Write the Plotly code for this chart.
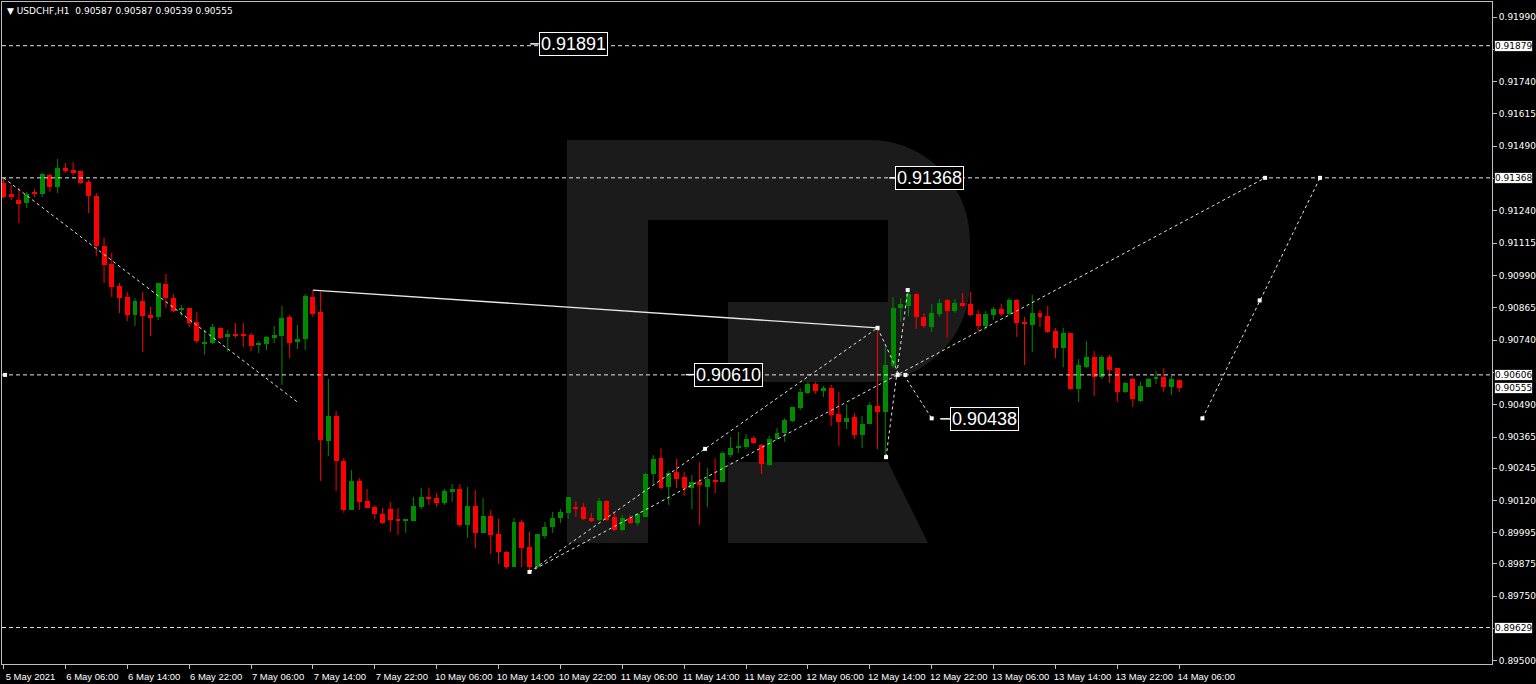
import plotly.graph_objects as go

# ---------------- data (USDCHF, H1) ----------------
opens = [0.91348, 0.91305, 0.91282, 0.91271, 0.91313, 0.91305, 0.91379, 0.91333, 0.91406, 0.91398,
         0.91394, 0.91352, 0.91298, 0.91105, 0.91035, 0.90950, 0.90907, 0.90838, 0.90892, 0.90838,
         0.90830, 0.90957, 0.90903, 0.90857, 0.90865, 0.90811, 0.90725, 0.90729, 0.90788, 0.90753,
         0.90764, 0.90764, 0.90760, 0.90725, 0.90725, 0.90749, 0.90756, 0.90830, 0.90733, 0.90745,
         0.90907, 0.90849, 0.90350, 0.90447, 0.90273, 0.90084, 0.90196, 0.90118, 0.90095, 0.90068,
         0.90087, 0.90049, 0.90041, 0.90041, 0.90095, 0.90134, 0.90130, 0.90111, 0.90153, 0.90165,
         0.90026, 0.90099, 0.89995, 0.90060, 0.89991, 0.89921, 0.89863, 0.90037, 0.89940, 0.89863,
         0.89983, 0.90018, 0.90053, 0.90072, 0.90095, 0.90095, 0.90053, 0.90045, 0.90118, 0.90057,
         0.90006, 0.90053, 0.90033, 0.90057, 0.90223, 0.90284, 0.90172, 0.90230, 0.90211, 0.90169,
         0.90192, 0.90172, 0.90199, 0.90192, 0.90296, 0.90323, 0.90327, 0.90362, 0.90335, 0.90257,
         0.90358, 0.90381, 0.90428, 0.90478, 0.90536, 0.90571, 0.90544, 0.90555, 0.90455, 0.90424,
         0.90443, 0.90373, 0.90416, 0.90486, 0.90463, 0.90640, 0.90865, 0.90873, 0.90919, 0.90830,
         0.90791, 0.90841, 0.90896, 0.90853, 0.90884, 0.90880, 0.90841, 0.90795, 0.90838, 0.90861,
         0.90841, 0.90896, 0.90811, 0.90799, 0.90845, 0.90834, 0.90776, 0.90710, 0.90768, 0.90551,
         0.90636, 0.90675, 0.90598, 0.90675, 0.90632, 0.90540, 0.90590, 0.90505, 0.90559, 0.90590,
         0.90598, 0.90559, 0.90587]
highs = [0.91367, 0.91340, 0.91329, 0.91313, 0.91325, 0.91387, 0.91383, 0.91441, 0.91425, 0.91429,
         0.91394, 0.91360, 0.91309, 0.91136, 0.91077, 0.90961, 0.90927, 0.90903, 0.90927, 0.90869,
         0.90961, 0.90996, 0.90919, 0.90876, 0.90865, 0.90849, 0.90780, 0.90803, 0.90788, 0.90780,
         0.90807, 0.90807, 0.90768, 0.90737, 0.90756, 0.90795, 0.90873, 0.90838, 0.90799, 0.90919,
         0.90934, 0.90927, 0.90590, 0.90466, 0.90284, 0.90238, 0.90207, 0.90165, 0.90103, 0.90091,
         0.90115, 0.90091, 0.90045, 0.90134, 0.90169, 0.90169, 0.90149, 0.90165, 0.90184, 0.90184,
         0.90172, 0.90161, 0.90130, 0.90084, 0.90049, 0.89925, 0.90053, 0.90045, 0.89999, 0.89991,
         0.90037, 0.90076, 0.90087, 0.90134, 0.90118, 0.90111, 0.90072, 0.90130, 0.90122, 0.90072,
         0.90064, 0.90064, 0.90072, 0.90227, 0.90296, 0.90323, 0.90234, 0.90281, 0.90230, 0.90219,
         0.90269, 0.90246, 0.90284, 0.90311, 0.90366, 0.90385, 0.90377, 0.90370, 0.90339, 0.90370,
         0.90401, 0.90439, 0.90482, 0.90555, 0.90579, 0.90579, 0.90563, 0.90567, 0.90540, 0.90493,
         0.90459, 0.90447, 0.90501, 0.90788, 0.90714, 0.90907, 0.90903, 0.90934, 0.90923, 0.90845,
         0.90880, 0.90899, 0.90899, 0.90899, 0.90923, 0.90927, 0.90857, 0.90853, 0.90869, 0.90880,
         0.90903, 0.90899, 0.90830, 0.90915, 0.90857, 0.90873, 0.90788, 0.90788, 0.90768, 0.90667,
         0.90737, 0.90698, 0.90683, 0.90683, 0.90632, 0.90579, 0.90594, 0.90579, 0.90594, 0.90621,
         0.90632, 0.90602, 0.90587]
lows = [0.91290, 0.91282, 0.91193, 0.91251, 0.91294, 0.91294, 0.91313, 0.91309, 0.91387, 0.91379,
        0.91344, 0.91232, 0.91066, 0.90961, 0.90907, 0.90845, 0.90814, 0.90795, 0.90694, 0.90756,
        0.90818, 0.90865, 0.90849, 0.90834, 0.90791, 0.90729, 0.90683, 0.90725, 0.90745, 0.90694,
        0.90749, 0.90714, 0.90698, 0.90690, 0.90702, 0.90729, 0.90567, 0.90671, 0.90706, 0.90702,
        0.90830, 0.90196, 0.90292, 0.90157, 0.90072, 0.90084, 0.90084, 0.90091, 0.90049, 0.90029,
        0.89999, 0.89987, 0.89995, 0.90041, 0.90087, 0.90103, 0.90095, 0.90103, 0.90115, 0.90018,
        0.89976, 0.89937, 0.89995, 0.89913, 0.89875, 0.89855, 0.89863, 0.89863, 0.89844, 0.89863,
        0.89972, 0.89995, 0.90033, 0.90049, 0.90057, 0.90045, 0.90037, 0.90041, 0.90041, 0.90002,
        0.90002, 0.90029, 0.90022, 0.90057, 0.90184, 0.90165, 0.90103, 0.90169, 0.90138, 0.90087,
        0.90026, 0.90095, 0.90149, 0.90192, 0.90288, 0.90304, 0.90319, 0.90339, 0.90222, 0.90254,
        0.90354, 0.90347, 0.90424, 0.90470, 0.90532, 0.90532, 0.90521, 0.90408, 0.90331, 0.90397,
        0.90358, 0.90323, 0.90416, 0.90319, 0.90284, 0.90632, 0.90811, 0.90834, 0.90784, 0.90788,
        0.90772, 0.90830, 0.90749, 0.90845, 0.90869, 0.90834, 0.90772, 0.90780, 0.90818, 0.90834,
        0.90838, 0.90753, 0.90644, 0.90694, 0.90791, 0.90768, 0.90671, 0.90636, 0.90551, 0.90501,
        0.90632, 0.90524, 0.90590, 0.90575, 0.90501, 0.90536, 0.90482, 0.90501, 0.90559, 0.90571,
        0.90540, 0.90528, 0.90539]
closes = [0.91294, 0.91294, 0.91267, 0.91305, 0.91305, 0.91383, 0.91333, 0.91406, 0.91394, 0.91387,
          0.91348, 0.91298, 0.91105, 0.91031, 0.90946, 0.90903, 0.90838, 0.90892, 0.90834, 0.90826,
          0.90961, 0.90903, 0.90853, 0.90861, 0.90807, 0.90737, 0.90733, 0.90791, 0.90749, 0.90764,
          0.90760, 0.90756, 0.90718, 0.90729, 0.90753, 0.90760, 0.90826, 0.90729, 0.90745, 0.90911,
          0.90841, 0.90354, 0.90447, 0.90273, 0.90084, 0.90196, 0.90115, 0.90091, 0.90068, 0.90033,
          0.90045, 0.90041, 0.90045, 0.90099, 0.90134, 0.90126, 0.90111, 0.90157, 0.90165, 0.90026,
          0.90099, 0.89995, 0.90060, 0.89987, 0.89921, 0.89863, 0.90037, 0.89937, 0.89863, 0.89991,
          0.90018, 0.90053, 0.90076, 0.90134, 0.90087, 0.90049, 0.90041, 0.90118, 0.90045, 0.90006,
          0.90053, 0.90033, 0.90068, 0.90223, 0.90281, 0.90169, 0.90227, 0.90203, 0.90169, 0.90192,
          0.90180, 0.90203, 0.90192, 0.90304, 0.90323, 0.90331, 0.90358, 0.90343, 0.90261, 0.90358,
          0.90381, 0.90432, 0.90482, 0.90540, 0.90571, 0.90544, 0.90555, 0.90451, 0.90424, 0.90439,
          0.90373, 0.90416, 0.90490, 0.90463, 0.90644, 0.90865, 0.90880, 0.90919, 0.90830, 0.90795,
          0.90845, 0.90884, 0.90853, 0.90884, 0.90873, 0.90838, 0.90795, 0.90841, 0.90861, 0.90841,
          0.90896, 0.90807, 0.90803, 0.90845, 0.90830, 0.90772, 0.90710, 0.90768, 0.90551, 0.90644,
          0.90675, 0.90598, 0.90675, 0.90625, 0.90540, 0.90575, 0.90513, 0.90563, 0.90590, 0.90598,
          0.90559, 0.90590, 0.90555]

x_tick_bars = [0, 8, 16, 24, 32, 40, 48, 56, 64, 72, 80, 88, 96, 104, 112, 120, 128, 136, 144, 152]
x_tick_labels = ["5 May 2021", "6 May 06:00", "6 May 14:00", "6 May 22:00", "7 May 06:00",
                 "7 May 14:00", "7 May 22:00", "10 May 06:00", "10 May 14:00", "10 May 22:00",
                 "11 May 06:00", "11 May 14:00", "11 May 22:00", "12 May 06:00", "12 May 14:00",
                 "12 May 22:00", "13 May 06:00", "13 May 14:00", "13 May 22:00", "14 May 06:00"]

price_ticks = [0.91990, 0.91865, 0.91740, 0.91615, 0.91490, 0.91365, 0.91240, 0.91115, 0.90990,
               0.90865, 0.90740, 0.90615, 0.90490, 0.90365, 0.90245, 0.90120, 0.89995, 0.89875,
               0.89750, 0.89625, 0.89500]
price_tick_labels = ["0.91990", "", "0.91740", "0.91615", "0.91490", "", "0.91240", "0.91115",
                     "0.90990", "0.90865", "0.90740", "", "0.90490", "0.90365", "0.90245",
                     "0.90120", "0.89995", "0.89875", "0.89750", "", "0.89500"]

h_levels = [0.91879, 0.91368, 0.90606, 0.89629]
axis_boxes = [0.91879, 0.91368, 0.90606, 0.90555, 0.89629]
axis_box_labels = ["0.91879", "0.91368", "0.90606", "0.90555", "0.89629"]

# text labels on chart: (anchor bar, box-left bar, price, text)
chart_labels = [(68.1, 69.2, 0.91886, "0.91891"),
                (114.5, 115.3, 0.91368, "0.91368"),
                (88.2, 89.3, 0.90607, "0.90610"),
                (121.1, 122.4, 0.90436, "0.90438")]

dashed_segments = [((0, 0.91368), (38, 0.90501)),
                   ((68, 0.89844), (113, 0.90788)),
                   ((68, 0.89844), (163.1, 0.91368)),
                   ((113, 0.90788), (115.8, 0.90606)),
                   ((114.1, 0.90288), (116.9, 0.90934)),
                   ((116.4, 0.90606), (120, 0.90438)),
                   ((155, 0.90438), (170.2, 0.91368))]
solid_segments = [((40, 0.90934), (113, 0.90788))]
arrow_points = [(90.7, 0.90320), (163.1, 0.91368), (162.4, 0.90894), (155, 0.90438),
                (170.2, 0.91368), (113, 0.90788), (114.1, 0.90288), (116.9, 0.90934),
                (115.6, 0.90606), (116.6, 0.90606), (120, 0.90438), (68, 0.89844), (0.2, 0.90606)]

title_text = "▼ USDCHF,H1\u00a0\u00a00.90587 0.90587 0.90539 0.90555"

# ---------------- styling ----------------
UP = "#008a00"
DOWN = "#ff0000"
FONT = "DejaVu Sans"
XFONT = "Liberation Sans"
W, H = 1536, 684
ML, MR, MT, MB = 2, 44, 2, 20

bars = list(range(len(opens)))
fig = go.Figure()

# watermark "R" (decoration, in paper coords)
def pp(X, Y):
    return f"{(X - ML) / (W - ML - MR):.5f},{(H - MB - Y) / (H - MT - MB):.5f}"

wm_paths = [
    f"M {pp(567,140)} L {pp(648,140)} L {pp(648,543)} L {pp(567,543)} Z",
    (f"M {pp(648,140)} L {pp(870,140)} C {pp(925,140)} {pp(970,185)} {pp(970,240)} "
     f"L {pp(970,282)} C {pp(970,337)} {pp(925,382)} {pp(870,382)} L {pp(728,382)} "
     f"L {pp(728,302)} L {pp(888,302)} L {pp(888,220)} L {pp(648,220)} Z"),
    f"M {pp(728,462)} L {pp(888,462)} L {pp(928,543)} L {pp(728,543)} Z",
]
shapes = []
for p in wm_paths:
    shapes.append(dict(type="path", path=p, xref="paper", yref="paper",
                       fillcolor="#1b1b1b", line=dict(width=0), layer="below"))

# wicks
for color, cond in ((UP, lambda o, c: c >= o), (DOWN, lambda o, c: c < o)):
    xs, ys = [], []
    for i, o, h, l, c in zip(bars, opens, highs, lows, closes):
        if cond(o, c):
            xs += [i, i, None]
            ys += [l, h, None]
    fig.add_trace(go.Scatter(x=xs, y=ys, mode="lines", line=dict(color=color, width=1),
                             hoverinfo="skip", showlegend=False))

# bodies
base = [min(o, c) for o, c in zip(opens, closes)]
height = [max(abs(c - o), 0.00003) for o, c in zip(opens, closes)]
colors = [UP if c >= o else DOWN for o, c in zip(opens, closes)]
fig.add_trace(go.Bar(x=bars, y=height, base=base, width=0.64,
                     marker=dict(color=colors, line=dict(width=0)),
                     hoverinfo="skip", showlegend=False))

# horizontal levels
for lv in h_levels:
    shapes.append(dict(type="line", xref="paper", x0=0, x1=1, yref="y", y0=lv, y1=lv,
                       line=dict(color="#e6e6e6", width=1, dash="4px,3px"), layer="above"))

# trend / projection lines
for (x0, y0), (x1, y1) in dashed_segments:
    fig.add_trace(go.Scatter(x=[x0, x1], y=[y0, y1], mode="lines",
                             line=dict(color="#e6e6e6", width=1, dash="3px,3px"),
                             hoverinfo="skip", showlegend=False))
for (x0, y0), (x1, y1) in solid_segments:
    fig.add_trace(go.Scatter(x=[x0, x1], y=[y0, y1], mode="lines",
                             line=dict(color="#e8e8e8", width=1.3),
                             hoverinfo="skip", showlegend=False))
fig.add_trace(go.Scatter(x=[p[0] for p in arrow_points], y=[p[1] for p in arrow_points],
                         mode="markers", marker=dict(symbol="square", size=4, color="white"),
                         hoverinfo="skip", showlegend=False))
for a, b, y, _t in chart_labels:
    fig.add_trace(go.Scatter(x=[a, b], y=[y, y], mode="lines",
                             line=dict(color="white", width=1.5),
                             hoverinfo="skip", showlegend=False))

annotations = []
for a, b, y, t in chart_labels:
    annotations.append(dict(x=b, y=y, xref="x", yref="y", text=t, showarrow=False,
                            xanchor="left", yanchor="middle",
                            font=dict(family="Liberation Sans", size=18, color="white"),
                            bgcolor="black", bordercolor="white", borderwidth=1, borderpad=1))
for lv, t in zip(axis_boxes, axis_box_labels):
    annotations.append(dict(x=1, y=lv, xref="paper", yref="y", text=t, showarrow=False,
                            xanchor="left", yanchor="middle", xshift=2,
                            font=dict(family=FONT, size=9, color="black"),
                            bgcolor="white", bordercolor="#202020", borderwidth=1, borderpad=0))
annotations.append(dict(x=0, y=1, xref="paper", yref="paper", text=title_text, showarrow=False,
                        xanchor="left", yanchor="top", xshift=3, yshift=-2,
                        font=dict(family=FONT, size=9, color="white")))

px_per_bar = 7.735
fig.update_layout(
    width=W, height=H, autosize=False,
    margin=dict(l=ML, r=MR, t=MT, b=MB, pad=0, autoexpand=False),
    paper_bgcolor="black", plot_bgcolor="black",
    shapes=shapes, annotations=annotations,
    showlegend=False, bargap=0, hovermode=False,
    font=dict(family=FONT, size=9, color="white"),
    xaxis=dict(range=[(ML - 3.5) / px_per_bar, (W - MR - 3.5) / px_per_bar],
               tickmode="array", tickvals=x_tick_bars, ticktext=x_tick_labels,
               tickangle=0, automargin=False,
               ticks="outside", ticklen=4, tickcolor="#bfbfbf", ticklabelshift=27,
               tickfont=dict(family=XFONT, size=9.5, color="white"),
               showgrid=False, zeroline=False, showline=True, mirror=True,
               linecolor="#bfbfbf", linewidth=1, fixedrange=True),
    yaxis=dict(range=[0.89488, 0.92048], side="right", automargin=False,
               tickmode="array", tickvals=price_ticks, ticktext=price_tick_labels,
               ticks="outside", ticklen=4, tickcolor="#bfbfbf",
               tickfont=dict(family=FONT, size=9, color="white"),
               showgrid=False, zeroline=False, showline=True, mirror=True,
               linecolor="#bfbfbf", linewidth=1, fixedrange=True),
)

fig.write_html("out.html", config={"displayModeBar": False},
               post_script="document.body.style.margin='0';document.body.style.overflow='hidden';")
